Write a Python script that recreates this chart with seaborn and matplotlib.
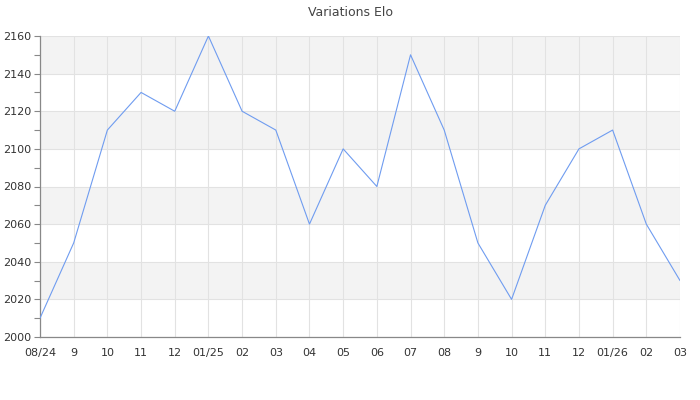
import matplotlib
matplotlib.use("Agg")
import matplotlib.pyplot as plt
import numpy as np
import pandas as pd
import seaborn as sns
from matplotlib.ticker import MultipleLocator

months = ["08/24", "9", "10", "11", "12", "01/25", "02", "03", "04", "05",
          "06", "07", "08", "9", "10", "11", "12", "01/26", "02", "03"]
elo = [2010, 2050, 2110, 2130, 2120, 2160, 2120, 2110, 2060, 2100,
       2080, 2150, 2110, 2050, 2020, 2070, 2100, 2110, 2060, 2030]

sns.set_theme(style="white")
plt.rcParams["font.family"] = ["DejaVu Sans"]

frame = pd.DataFrame({"idx": np.arange(len(months)), "elo": elo})

fig = plt.figure(figsize=(7, 4), dpi=100)
ax = fig.add_axes([40 / 700, 63 / 400, 640 / 700, 301 / 400])

# alternating background bands
for lo in range(2020, 2160, 40):
    ax.axhspan(lo, lo + 20, color="#f3f3f3", zorder=0, lw=0)

sns.lineplot(data=frame, x="idx", y="elo", ax=ax, color="#6f9cf0",
             linewidth=0.8, zorder=3)

ax.set_xlim(0, len(months) - 1)
ax.set_ylim(2000, 2160)
ax.set_xticks(frame["idx"])
ax.set_xticklabels(months)
ax.yaxis.set_major_locator(MultipleLocator(20))
ax.yaxis.set_minor_locator(MultipleLocator(10))
ax.grid(True, which="major", color="#e2e2e2", linewidth=0.8, zorder=1)
ax.set_axisbelow(True)

for side in ["top", "right"]:
    ax.spines[side].set_visible(False)
for side in ["left", "bottom"]:
    ax.spines[side].set_color("#888888")
    ax.spines[side].set_linewidth(0.9)

ax.tick_params(axis="y", which="both", left=True, length=4, width=0.8,
               color="#888888", labelsize=8, labelcolor="#333333", pad=2)
ax.tick_params(axis="x", bottom=False, labelsize=8, labelcolor="#333333", pad=2)
ax.set_xlabel("")
ax.set_ylabel("")

fig.suptitle("Variations Elo", y=0.985, fontsize=9, color="#444444")

fig.savefig("out.png", dpi=100)
